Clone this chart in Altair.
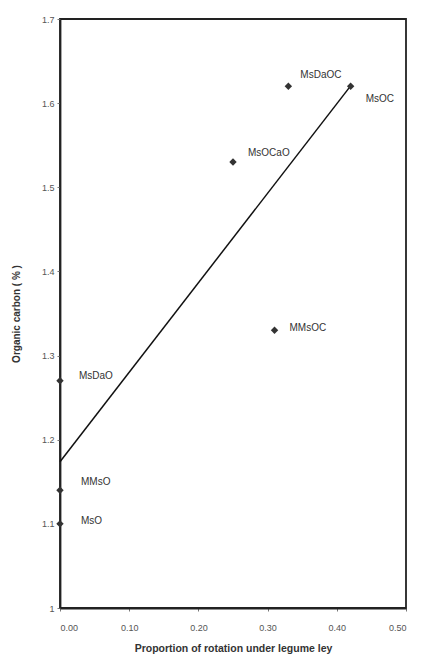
import altair as alt
import pandas as pd

# Data
labels = ["MsDaOC", "MsOC", "MsOCaO", "MMsOC", "MsDaO", "MMsO", "MsO"]
proportion = [0.33, 0.42, 0.25, 0.31, 0.0, 0.0, 0.0]
organic_c = [1.62, 1.62, 1.53, 1.33, 1.27, 1.14, 1.10]
x_ticks = [0.0, 0.1, 0.2, 0.3, 0.4, 0.5]
y_ticks = [1.0, 1.1, 1.2, 1.3, 1.4, 1.5, 1.6, 1.7]

df = pd.DataFrame({"label": labels, "x": proportion, "y": organic_c})

# label nudges (style only)
nudge = {
    "MsDaOC": (12, -11),
    "MsOC": (15, 13),
    "MsOCaO": (15, -9),
    "MMsOC": (15, -2),
    "MsDaO": (19, -5),
    "MMsO": (21, -8),
    "MsO": (21, -3),
}

FONT = "Liberation Sans"

xs = alt.X("x:Q", scale=alt.Scale(domain=[0, 0.5], nice=False, zero=False),
           axis=alt.Axis(values=x_ticks, format=".2f",
                         title="Proportion of rotation under legume ley"))
ys = alt.Y("y:Q", scale=alt.Scale(domain=[1.0, 1.7], nice=False, zero=False),
           axis=alt.Axis(values=y_ticks, format=".1~f", title="Organic carbon ( % )"))

base = alt.Chart(df)

points = base.mark_point(shape="diamond", filled=True, size=55, color="#333333", opacity=1).encode(x=xs, y=ys)

line = base.transform_regression("x", "y", extent=[0, max(proportion)]).mark_line(
    color="#111111", strokeWidth=1.5).encode(x=xs, y=ys)

layers = [line, points]
for lab, (dx, dy) in nudge.items():
    layers.append(
        base.transform_filter(alt.datum.label == lab).mark_text(
            align="left", baseline="middle", dx=dx, dy=dy, font=FONT,
            fontSize=10, color="#333333").encode(x=xs, y=ys, text="label:N")
    )

chart = alt.layer(*layers).properties(
    width=346, height=589,
    padding={"left": 3, "top": 7, "right": 5, "bottom": 0},
).configure_view(
    stroke="#222222", strokeWidth=1.8
).configure_axis(
    grid=False, domainColor="#222222", domainWidth=1.8,
    tickColor="#777777", tickSize=3, labelFont=FONT, labelFontSize=9,
    labelColor="#555555", titleFont=FONT, titleColor="#333333",
).configure_axisX(
    labelPadding=12, titlePadding=11, titleFontSize=10.5, titleFontWeight="bold",
).configure_axisY(
    labelPadding=3, titlePadding=20, titleFontSize=10, titleFontWeight="bold",
)

chart.save("out.html", embed_options={"renderer": "svg", "actions": False})
